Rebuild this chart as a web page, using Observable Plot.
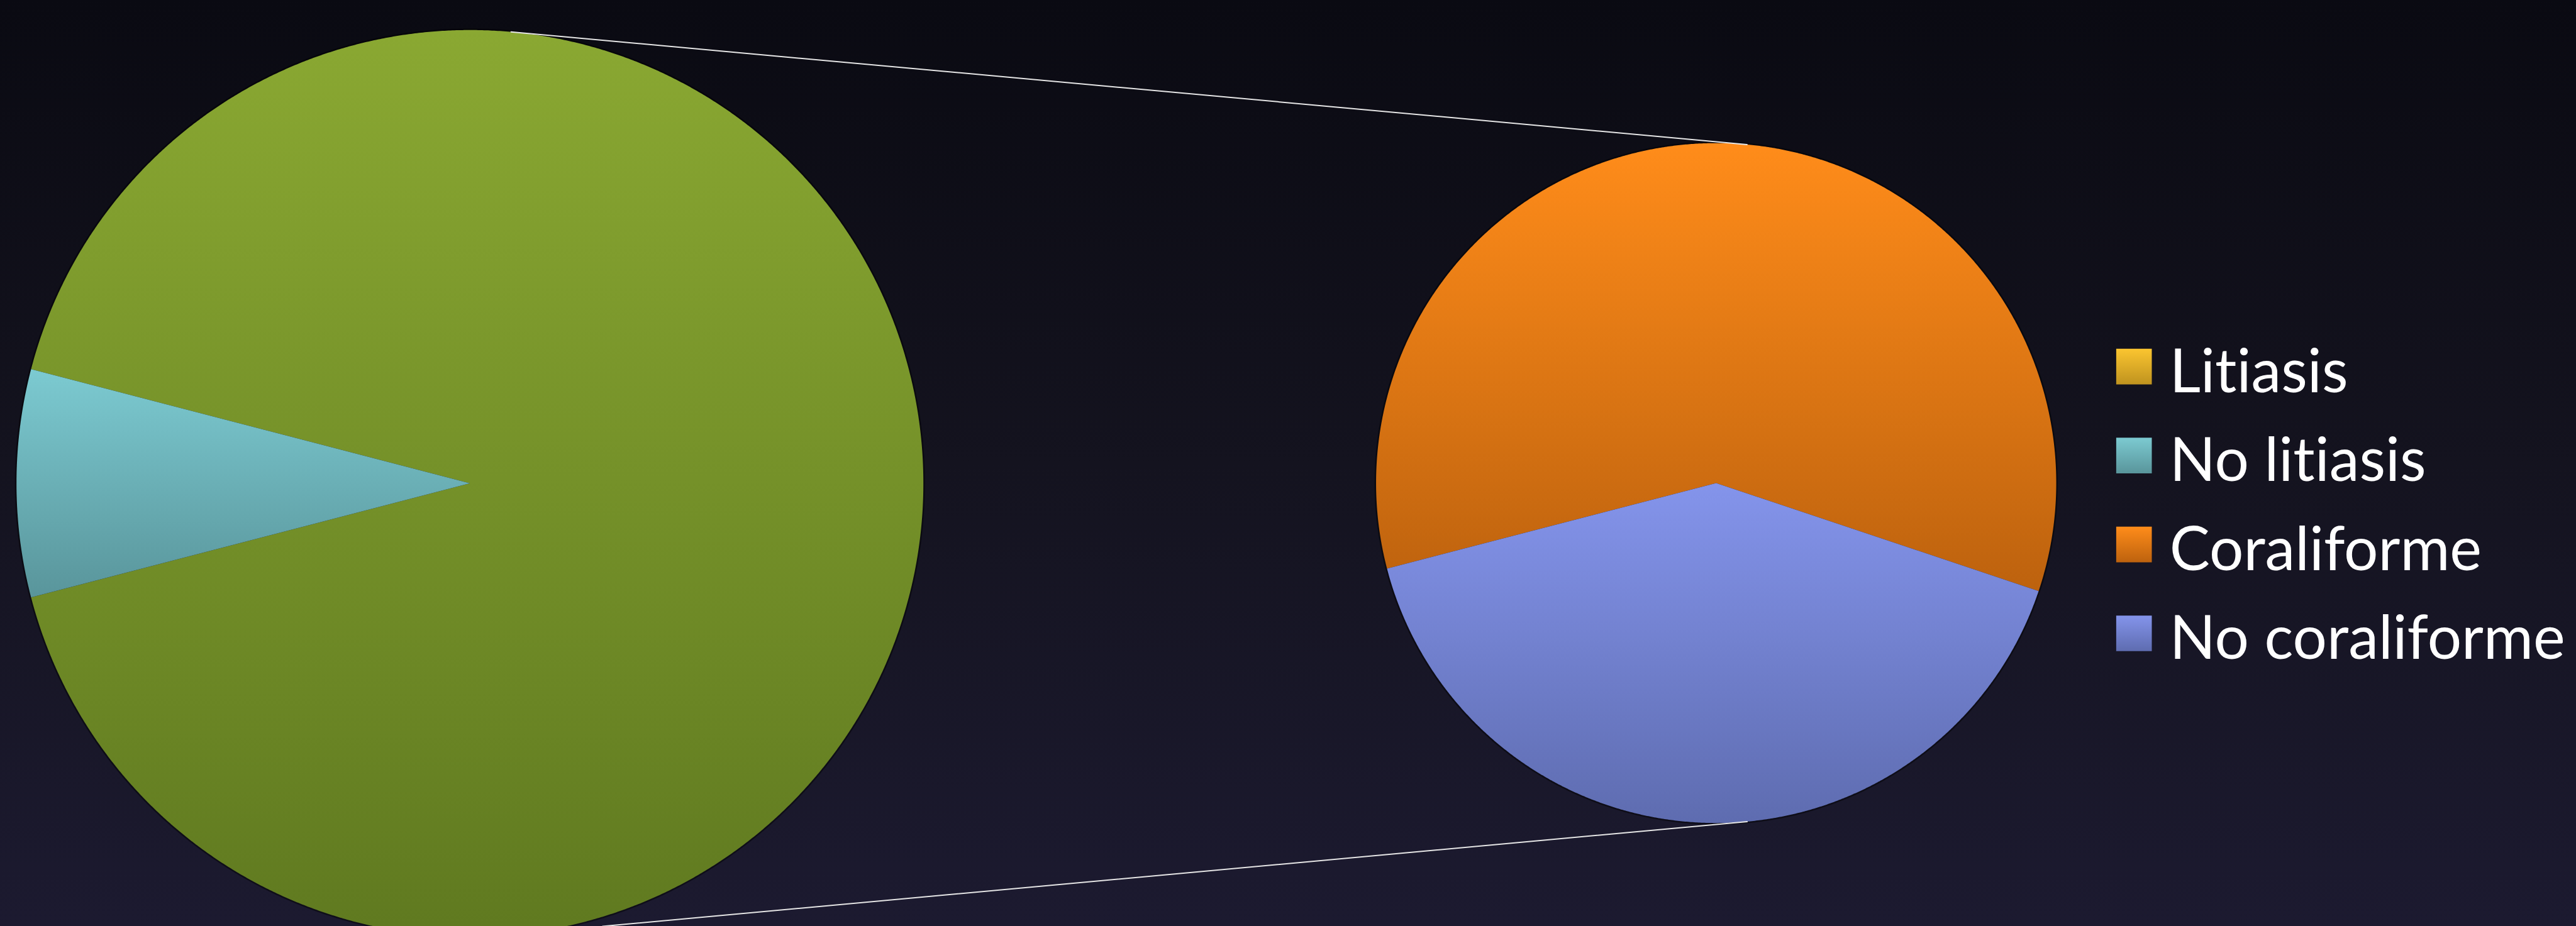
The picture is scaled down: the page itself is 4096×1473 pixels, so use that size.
<!DOCTYPE html>
<html>
<head>
<meta charset="utf-8">
<script src="https://cdn.jsdelivr.net/npm/d3@7"></script>
<script src="https://cdn.jsdelivr.net/npm/@observablehq/plot@0.6"></script>
<style>
  html, body { margin: 0; padding: 0; width: 4096px; height: 1473px; overflow: hidden;
    background: linear-gradient(#0a0a12, #14131f 50%, #1c1a30); }
  #chart svg { display: block; background: transparent; }
  #chart svg text { font-variant-ligatures: none; font-feature-settings: "liga" 0, "clig" 0; }
</style>
</head>
<body>
<div id="chart"></div>
<script>
// ---------------- data ----------------
const categories = ["Litiasis", "No litiasis", "Coraliforme", "No coraliforme"];
const values = [0, 8.1, 54.4, 37.5];
const secondaryCategories = ["Coraliforme", "No coraliforme"];
const otherLabel = "Otros";

// ---------------- styles ----------------
const gradientStops = {
  "Litiasis": ["#fbc530", "#bf931f"],
  "No litiasis": ["#7ccad1", "#59959b"],
  "Coraliforme": ["#ff8c1a", "#bd620e"],
  "No coraliforme": ["#8494eb", "#5e6cb0"],
  "Otros": ["#8aa832", "#607a20"]
};
const gradId = (label) => "grad-" + label.replace(/\s+/g, "-");

// ---------------- layout (reference pixel space) ----------------
const REF_W = 5283, REF_H = 1900;
const W = 4096, H = 1473;
const primary = {cx: 963, cy: 991, r: 930};
const secondary = {cx: 3519, cy: 990.5, r: 697.5};
const legendLayout = {x: 4376, y0: 751.5, step: 182.5, textX: 4449};

// ---------------- geometry from data ----------------
const TAU = 2 * Math.PI;
const pointAt = (c, a) => [c.cx + c.r * Math.sin(a), c.cy - c.r * Math.cos(a)];
function sector(c, a0, a1) {
  const n = Math.max(2, Math.ceil(Math.abs(a1 - a0) / (Math.PI / 720)));
  const ring = [[c.cx, c.cy]];
  for (let i = 0; i <= n; i++) ring.push(pointAt(c, a0 + (a1 - a0) * i / n));
  ring.push([c.cx, c.cy]);
  return ring;
}
function circleRing(c) {
  const ring = [];
  for (let i = 0; i <= 1440; i++) ring.push(pointAt(c, TAU * i / 1440));
  return ring;
}

const rows = categories.map((label, i) => ({label, value: values[i]}));
const secondaryItems = rows.filter(d => secondaryCategories.includes(d.label));
const primaryRest = rows.filter(d => !secondaryCategories.includes(d.label));
const otherValue = d3.sum(secondaryItems, d => d.value);
const total = d3.sum(rows, d => d.value);
const otherAngle = TAU * otherValue / total;

// Primary pie: the aggregated slice is centred on the right-hand side
const pStart = Math.PI / 2 - otherAngle / 2;
const primaryItems = [{label: otherLabel, value: otherValue}, ...primaryRest];
const pArcs = d3.pie().sort(null).value(d => d.value)
  .startAngle(pStart).endAngle(pStart + TAU)(primaryItems);
// Secondary pie starts where the aggregated slice ends
const sStart = pStart + otherAngle;
const sArcs = d3.pie().sort(null).value(d => d.value)
  .startAngle(sStart).endAngle(sStart + TAU)(secondaryItems);

const toFeature = (c) => (a) => ({
  type: "Feature",
  properties: {label: a.data.label, fill: `url(#${gradId(a.data.label)})`},
  geometry: {type: "Polygon", coordinates: [sector(c, a.startAngle, a.endAngle)]}
});
const slices = [
  ...pArcs.filter(a => a.data.value > 0).map(toFeature(primary)),
  ...sArcs.filter(a => a.data.value > 0).map(toFeature(secondary))
];
const rims = [primary, secondary].map(c => ({
  type: "Feature", properties: {},
  geometry: {type: "Polygon", coordinates: [circleRing(c)]}
}));

// Series lines: external common tangents of the two pies
const ddx = secondary.cx - primary.cx, ddy = secondary.cy - primary.cy;
const dist = Math.hypot(ddx, ddy);
const base = Math.atan2(ddy, ddx);
const phi = Math.acos((primary.r - secondary.r) / dist);
const connectors = [-1, 1].map(s => {
  const t = base + s * phi, nx = Math.cos(t), ny = Math.sin(t);
  return {
    type: "Feature", properties: {},
    geometry: {type: "LineString", coordinates: [
      [primary.cx + primary.r * nx, primary.cy + primary.r * ny],
      [secondary.cx + secondary.r * nx, secondary.cy + secondary.r * ny]
    ]}
  };
});

const legendRows = categories.map((label, i) => ({
  label,
  x: legendLayout.x,
  tx: legendLayout.textX,
  y: legendLayout.y0 + i * legendLayout.step,
  fill: `url(#${gradId(label)})`
}));

const frameDomain = {type: "MultiPoint", coordinates: [[0, 0], [REF_W, REF_H]]};

// gradient definitions
function defsMark() {
  const ns = "http://www.w3.org/2000/svg";
  const defs = document.createElementNS(ns, "defs");
  for (const [label, [c0, c1]] of Object.entries(gradientStops)) {
    const g = document.createElementNS(ns, "linearGradient");
    g.setAttribute("id", gradId(label));
    g.setAttribute("x1", "0"); g.setAttribute("y1", "0");
    g.setAttribute("x2", "0"); g.setAttribute("y2", "1");
    [[0, c0], [1, c1]].forEach(([o, c]) => {
      const s = document.createElementNS(ns, "stop");
      s.setAttribute("offset", o);
      s.setAttribute("stop-color", c);
      g.appendChild(s);
    });
    defs.appendChild(g);
  }
  return defs;
}

const K = W / REF_W;
const chart = Plot.plot({
  width: W,
  height: H,
  margin: 0,
  projection: {type: "identity", domain: frameDomain, inset: 0},
  color: {type: "identity"},
  style: {background: "transparent"},
  marks: [
    defsMark,
    Plot.geo(rims, {fill: "none", stroke: "#000000", strokeOpacity: 0.45, strokeWidth: 5}),
    Plot.geo(slices, {fill: d => d.properties.fill, stroke: "none"}),
    Plot.geo(connectors, {stroke: "#e6e6e6", strokeWidth: 2, fill: "none"}),
    Plot.dot(legendRows, {x: "x", y: "y", symbol: "square", r: 73 * K / Math.sqrt(Math.PI), fill: "fill", stroke: "none"}),
    Plot.text(legendRows, {x: "tx", y: "y", text: "label", textAnchor: "start", lineAnchor: "middle",
      dy: 10, fill: "#ffffff", fontSize: 96, fontFamily: "Lato", fontWeight: 400})
  ]
});
document.getElementById("chart").appendChild(chart);
</script>
</body>
</html>
